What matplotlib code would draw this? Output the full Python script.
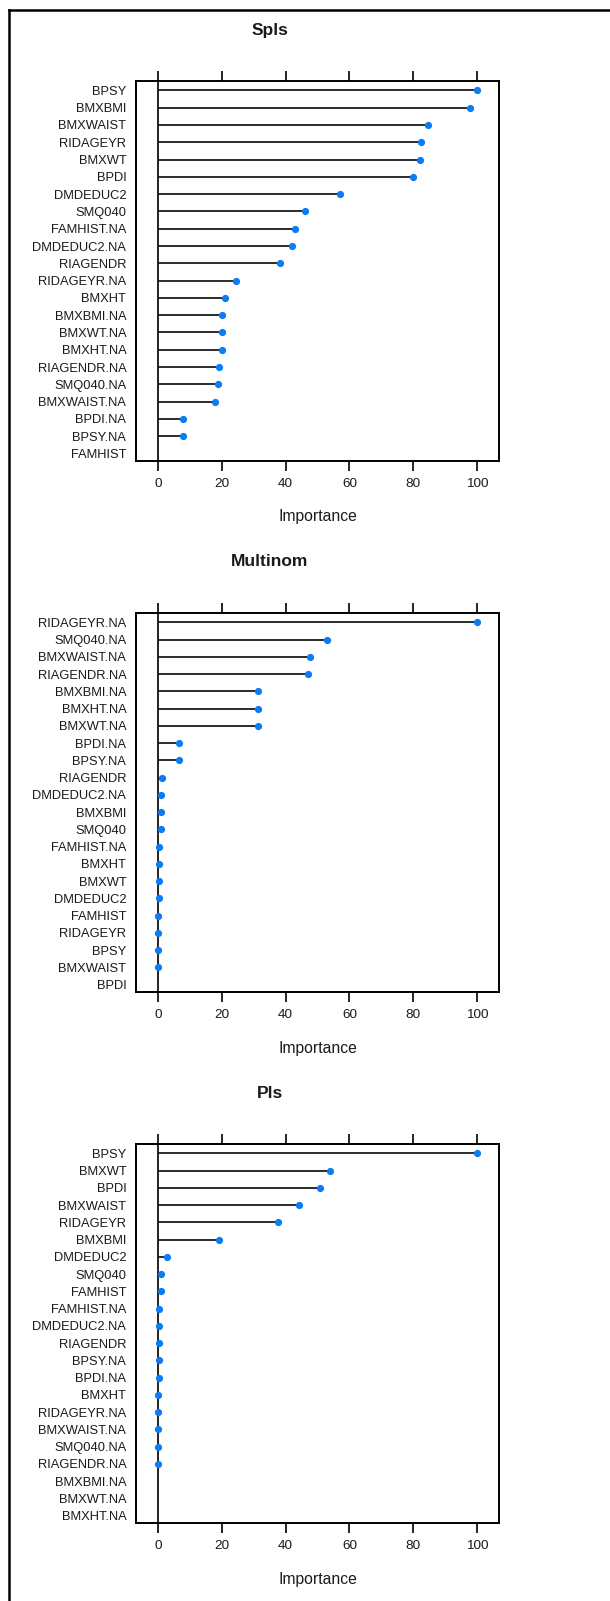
import numpy as np
import matplotlib
matplotlib.use("Agg")
import matplotlib.pyplot as plt
from matplotlib.lines import Line2D

plt.rcParams['font.family'] = ['Liberation Sans', 'DejaVu Sans']

# Variable importance, top row first (nan = no point drawn)
spls_vars = ['BPSY', 'BMXBMI', 'BMXWAIST', 'RIDAGEYR', 'BMXWT', 'BPDI', 'DMDEDUC2',
             'SMQ040', 'FAMHIST.NA', 'DMDEDUC2.NA', 'RIAGENDR', 'RIDAGEYR.NA', 'BMXHT',
             'BMXBMI.NA', 'BMXWT.NA', 'BMXHT.NA', 'RIAGENDR.NA', 'SMQ040.NA',
             'BMXWAIST.NA', 'BPDI.NA', 'BPSY.NA', 'FAMHIST']
spls_imp = [100, 97.9, 84.5, 82.4, 82.1, 80.0, 57.1, 46.0, 42.9, 42.1, 38.1, 24.5, 20.9,
            20.0, 20.0, 20.0, 19.1, 18.8, 18.0, 7.7, 7.7, np.nan]

multinom_vars = ['RIDAGEYR.NA', 'SMQ040.NA', 'BMXWAIST.NA', 'RIAGENDR.NA', 'BMXBMI.NA',
                 'BMXHT.NA', 'BMXWT.NA', 'BPDI.NA', 'BPSY.NA', 'RIAGENDR', 'DMDEDUC2.NA',
                 'BMXBMI', 'SMQ040', 'FAMHIST.NA', 'BMXHT', 'BMXWT', 'DMDEDUC2', 'FAMHIST',
                 'RIDAGEYR', 'BPSY', 'BMXWAIST', 'BPDI']
multinom_imp = [100, 53.1, 47.7, 47.0, 31.4, 31.4, 31.4, 6.6, 6.6, 1.4, 0.8, 0.8, 0.8,
                0.4, 0.4, 0.4, 0.4, 0, 0, 0, 0, np.nan]

pls_vars = ['BPSY', 'BMXWT', 'BPDI', 'BMXWAIST', 'RIDAGEYR', 'BMXBMI', 'DMDEDUC2', 'SMQ040',
            'FAMHIST', 'FAMHIST.NA', 'DMDEDUC2.NA', 'RIAGENDR', 'BPSY.NA', 'BPDI.NA', 'BMXHT',
            'RIDAGEYR.NA', 'BMXWAIST.NA', 'SMQ040.NA', 'RIAGENDR.NA', 'BMXBMI.NA',
            'BMXWT.NA', 'BMXHT.NA']
pls_imp = [100, 53.8, 50.9, 44.1, 37.6, 19.1, 2.9, 0.8, 0.8, 0.4, 0.4, 0.4, 0.4, 0.4,
           0, 0, 0, 0, 0, np.nan, np.nan, np.nan]

x_ticks = [0, 20, 40, 60, 80, 100]

W, H = 610, 1601
DOT = '#0a7cf5'
TXT = '#1a1a1a'


def lollipop(fig, top, bottom, title, names, values):
    """Draw one lattice-style dotplot panel; top/bottom are pixel rows of the axes box."""
    left, right = 136, 499
    ax = fig.add_axes([left / W, 1 - bottom / H, (right - left) / W, (bottom - top) / H])
    n = len(names)
    ypos = np.arange(n, 0, -1)
    vals = np.array(values, dtype=float)
    ok = ~np.isnan(vals)

    # zero reference line and stems
    ax.axvline(0, color='black', lw=1.2, zorder=1)
    ax.hlines(ypos[ok], 0, vals[ok], color='#111111', lw=1.25, zorder=2)
    ax.plot(vals[ok], ypos[ok], 'o', color=DOT, ms=5.2, mew=0, zorder=3)

    ax.set_xlim(-6.9, 106.9)
    ax.set_ylim(0.57, n + 0.54)
    ax.set_yticks(ypos)
    ax.set_yticklabels(names, fontsize=9.3, color=TXT)
    ax.tick_params(axis='y', length=0, pad=7)
    ax.set_xticks(x_ticks)
    ax.set_xticklabels([str(t) for t in x_ticks], fontsize=9.7, color=TXT)
    ax.tick_params(axis='x', top=True, bottom=True, labeltop=False, direction='out',
                   length=7, width=1.2, pad=5)
    for s in ax.spines.values():
        s.set_linewidth(1.4)

    # title and x label
    fig.text(270 / W, 1 - (top - 51) / H, title, ha='center', va='center',
             fontsize=12.5, fontweight='bold', color=TXT)
    fig.text((left + right) / 2 / W, 1 - (bottom + 56) / H, 'Importance', ha='center',
             va='center', fontsize=11.3, color=TXT)
    return ax


fig = plt.figure(figsize=(W / 100, H / 100), dpi=100)

lollipop(fig, 81, 461, 'Spls', spls_vars, spls_imp)
lollipop(fig, 613, 992, 'Multinom', multinom_vars, multinom_imp)
lollipop(fig, 1144, 1523, 'Pls', pls_vars, pls_imp)

# outer frame (only top and left edges are visible in the crop)
fig.add_artist(Line2D([9 / W, 9 / W], [0, 1 - 10 / H], color='black', lw=1.8,
                      transform=fig.transFigure))
fig.add_artist(Line2D([9 / W, 1], [1 - 10 / H, 1 - 10 / H], color='black', lw=1.8,
                      transform=fig.transFigure))

fig.savefig('out.png', dpi=100)
